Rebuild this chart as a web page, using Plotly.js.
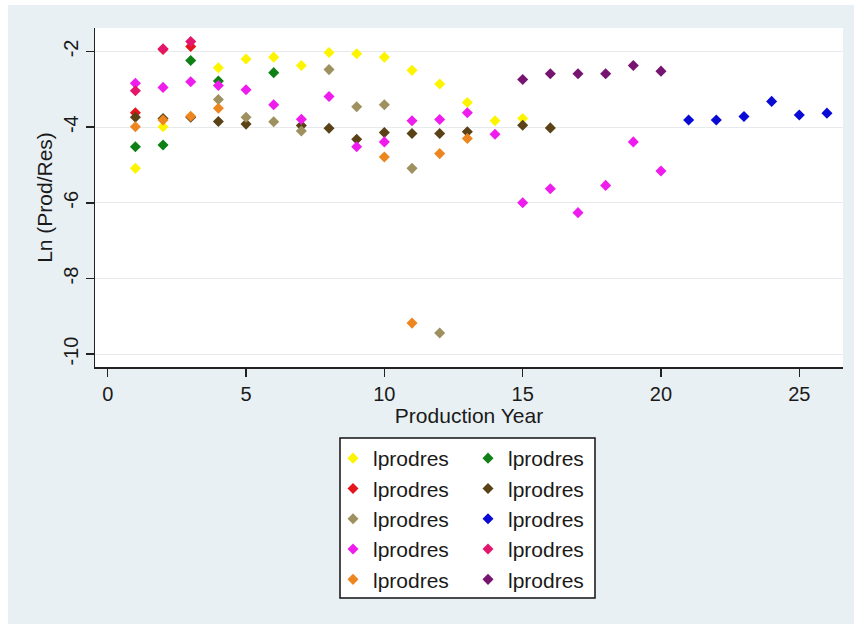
<!DOCTYPE html>
<html>
<head>
<meta charset="utf-8">
<script src="https://cdn.plot.ly/plotly-3.0.1.min.js"></script>
<style>
html,body{margin:0;padding:0;background:#ffffff;}
#chart{position:absolute;left:8px;top:5px;width:846px;height:619px;}
</style>
</head>
<body>
<div id="chart"></div>
<script>
// ---- data (x = production year, y = ln(prod/res)) ----
var seriesNames = ["lprodres","lprodres","lprodres","lprodres","lprodres","lprodres","lprodres","lprodres","lprodres","lprodres"];

var yellowX = [1,2,4,5,6,7,8,9,10,11,12,13,14,15];
var yellowY = [-5.09,-3.99,-2.43,-2.20,-2.15,-2.37,-2.03,-2.06,-2.15,-2.50,-2.86,-3.35,-3.83,-3.77];

var greenX = [1,2,3,4,6];
var greenY = [-4.52,-4.47,-2.24,-2.78,-2.56];

var redX = [1,2,3];
var redY = [-3.62,-1.95,-1.87];

var brownX = [1,2,3,4,5,7,8,9,10,11,12,13,15,16];
var brownY = [-3.74,-3.77,-3.74,-3.85,-3.92,-3.96,-4.03,-4.32,-4.14,-4.17,-4.17,-4.12,-3.95,-4.02];

var khakiX = [4,5,6,7,8,9,10,11,12];
var khakiY = [-3.27,-3.74,-3.86,-4.10,-2.48,-3.46,-3.41,-5.09,-9.44];

var blueX = [21,22,23,24,25,26];
var blueY = [-3.81,-3.81,-3.72,-3.32,-3.68,-3.63];

var magentaX = [1,2,3,4,5,6,7,8,9,10,11,12,13,14,15,16,17,18,19,20];
var magentaY = [-2.84,-2.95,-2.80,-2.90,-3.01,-3.41,-3.79,-3.19,-4.52,-4.39,-3.83,-3.80,-3.62,-4.19,-6.00,-5.63,-6.26,-5.54,-4.39,-5.16];

var crimsonX = [1,2,3];
var crimsonY = [-3.04,-1.93,-1.74];

var orangeX = [1,2,3,4,10,11,12,13];
var orangeY = [-3.99,-3.81,-3.71,-3.50,-4.79,-9.18,-4.70,-4.30];

var purpleX = [15,16,17,18,19,20];
var purpleY = [-2.74,-2.59,-2.59,-2.59,-2.37,-2.52];

var xTickVals = [0,5,10,15,20,25];
var yTickVals = [-2,-4,-6,-8,-10];
var yTickText = ["-2","-4","-6","-8","-10"];

// ---- styling ----
var FONT = "Arial, 'Liberation Sans', sans-serif";
var C = {
  yellow:"#fdf500", green:"#0f8016", red:"#e4151c", brown:"#5a4216", khaki:"#9f9060",
  blue:"#0a0ad6", magenta:"#ee1ded", crimson:"#e4166c", orange:"#ee8620", purple:"#76146f"
};

function tr(x, y, color, name, legend){
  return {
    type:"scatter", mode:"markers", x:x, y:y, name:name, legend:legend,
    marker:{symbol:"diamond", size:8.5, color:color, line:{width:0}},
    hoverinfo:"x+y"
  };
}

var data = [
  tr(yellowX, yellowY, C.yellow, seriesNames[0], "legend"),
  tr(greenX, greenY, C.green, seriesNames[1], "legend2"),
  tr(redX, redY, C.red, seriesNames[2], "legend"),
  tr(brownX, brownY, C.brown, seriesNames[3], "legend2"),
  tr(khakiX, khakiY, C.khaki, seriesNames[4], "legend"),
  tr(blueX, blueY, C.blue, seriesNames[5], "legend2"),
  tr(magentaX, magentaY, C.magenta, seriesNames[6], "legend"),
  tr(crimsonX, crimsonY, C.crimson, seriesNames[7], "legend2"),
  tr(orangeX, orangeY, C.orange, seriesNames[8], "legend"),
  tr(purpleX, purpleY, C.purple, seriesNames[9], "legend2")
];

// plot area in page px: x 95..843, y 28..367
function px(p){ return (p-95)/748; }
function py(p){ return (367-p)/339; }

var legendCommon = {
  orientation:"v", bgcolor:"rgba(0,0,0,0)", borderwidth:0,
  font:{family:FONT, size:21, color:"#1a1a1a"},
  xanchor:"left", yanchor:"top", traceorder:"normal", itemclick:false
};

var layout = {
  width:846, height:619,
  paper_bgcolor:"#e9f0f3", plot_bgcolor:"#ffffff",
  margin:{l:87, r:11, t:23, b:257},
  font:{family:FONT, color:"#1a1a1a"},
  showlegend:true,
  xaxis:{
    range:[-0.46, 26.58], tickvals:xTickVals, ticks:"outside", ticklen:8, tickwidth:1.5,
    tickcolor:"#222", showgrid:false, zeroline:false, showline:true, linecolor:"#222", linewidth:1.5,
    tickfont:{family:FONT, size:20, color:"#1a1a1a"},
    title:{text:"Production Year", font:{family:FONT, size:21, color:"#1a1a1a"}, standoff:0},
    automargin:false
  },
  yaxis:{
    range:[-10.34, -1.38], tickvals:yTickVals, ticktext:yTickText, ticks:"outside", ticklen:8, tickwidth:1.5,
    tickangle:-90, tickcolor:"#222", showgrid:true, gridcolor:"#e6eaec", gridwidth:1, zeroline:false,
    showline:true, linecolor:"#222", linewidth:1.5,
    tickfont:{family:FONT, size:20, color:"#1a1a1a"},
    title:{text:"Ln (Prod/Res)", font:{family:FONT, size:21, color:"#1a1a1a"}, standoff:1},
    automargin:false
  },
  legend: Object.assign({}, legendCommon, {x:px(333), y:py(438)}),
  legend2: Object.assign({}, legendCommon, {x:px(468), y:py(438)}),
  shapes:[{
    type:"rect", xref:"paper", yref:"paper", layer:"below",
    x0:px(340), x1:px(595), y0:py(598), y1:py(438),
    fillcolor:"#ffffff", line:{color:"#111", width:1.5}
  }]
};

Plotly.newPlot("chart", data, layout, {displayModeBar:false, staticPlot:true});
</script>
</body>
</html>
